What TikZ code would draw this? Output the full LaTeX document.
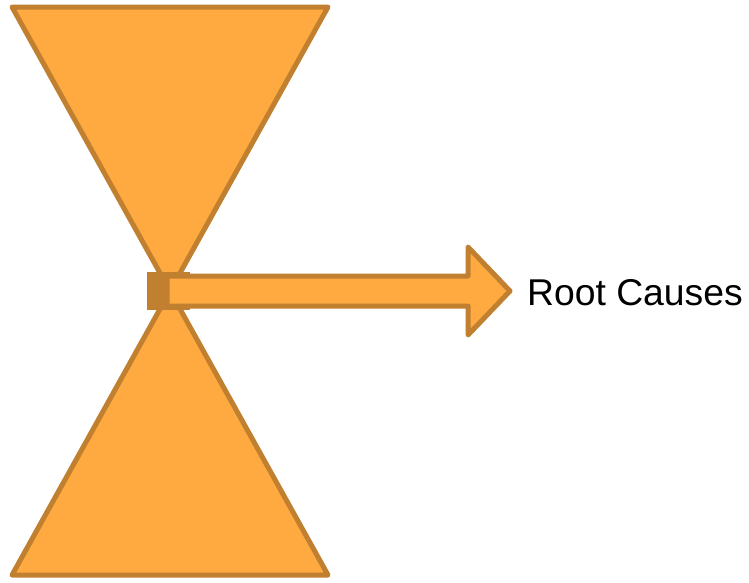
\documentclass[tikz,border=0pt]{standalone}
\usepackage{fontspec}
\setmainfont{Liberation Sans}
\usepackage{tikz}
\usetikzlibrary{positioning}
\definecolor{bowfill}{RGB}{255,170,64}
\definecolor{bowline}{RGB}{192,128,48}

\begin{document}
\begin{tikzpicture}[x=1pt,y=-1pt,line join=round,
  wedge/.style={draw=bowline,fill=bowfill,line width=5pt},
  hub/.style={rectangle,fill=bowline,minimum width=43pt,minimum height=38pt,inner sep=0pt},
  label node/.style={font=\fontsize{37.3}{40}\selectfont,inner sep=0pt}]
  \useasboundingbox (0,0) rectangle (749,582);

  % the two cones of the hourglass
  \draw[wedge] (12,7) -- (328,7) -- (170,291) -- cycle;
  \draw[wedge] (12,575) -- (328,575) -- (170,291) -- cycle;

  \node[hub] (H) at (168.5,291) {};
  \node[label node,anchor=west] (RC) at (527,293) {Root Causes};

  % block arrow out of the neck
  \draw[wedge] (167,276) -- (468,276) -- (468,247) -- (510,291)
     -- (468,335) -- (468,306) -- (167,306) -- cycle;
\end{tikzpicture}
\end{document}
